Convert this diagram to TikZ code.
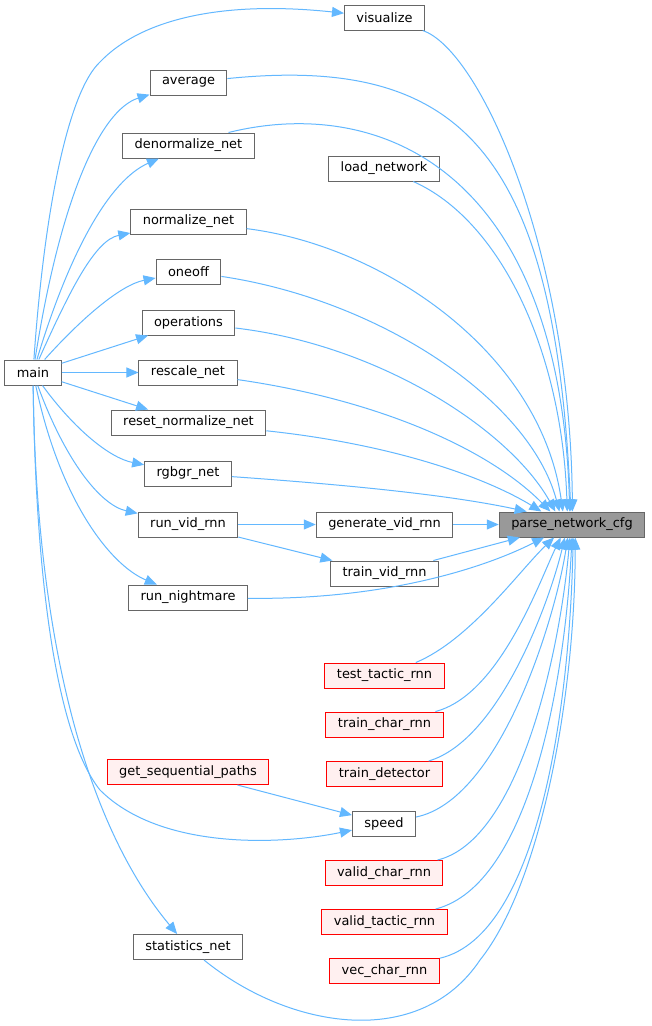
\documentclass[tikz,border=0pt]{standalone}
\usepackage{fontspec}
\setmainfont{DejaVu Sans}
\usetikzlibrary{arrows.meta}
\definecolor{dxblue}{RGB}{99,184,255}
\definecolor{dxgray}{RGB}{102,102,102}
\definecolor{dxfill}{RGB}{153,153,153}
\definecolor{dxred}{RGB}{255,0,0}
\definecolor{dxpink}{RGB}{255,240,240}

\begin{document}
\begin{tikzpicture}[x=0.75pt, y=-0.75pt, >={Triangle[length=9pt,width=7.5pt]},
  fn/.style={draw=dxgray, fill=white, line width=0.75pt, font=\fontsize{9.7}{11}\selectfont,
    inner xsep=9pt, inner ysep=0pt, minimum height=18.75pt},
  trunc/.style={fn, draw=dxred, fill=dxpink},
  cur/.style={fn, fill=dxfill},
  call/.style={->, dxblue, line width=0.75pt}]
  \useasboundingbox[fill=white] (0,0) rectangle (651,1026);

  % called function and caller
  \node[cur] (parse) at (572,524.5) {parse\_network\_cfg};
  \node[fn] (main) at (33,372.5) {main};

  % middle column
  \node[fn] (average) at (188.5,82.5) {average};
  \node[fn] (denorm) at (188.5,145.5) {denormalize\_net};
  \node[fn] (normnet) at (188.5,221.5) {normalize\_net};
  \node[fn] (oneoff) at (188.5,271.5) {oneoff};
  \node[fn] (operations) at (188.5,322.5) {operations};
  \node[fn] (rescale) at (188,372.5) {rescale\_net};
  \node[fn] (resetnorm) at (188.5,422.5) {reset\_normalize\_net};
  \node[fn] (rgbgr) at (188,473.5) {rgbgr\_net};
  \node[fn] (runvid) at (188,524.5) {run\_vid\_rnn};
  \node[fn] (nightmare) at (188,597.5) {run\_nightmare};
  \node[trunc] (getseq) at (188,772) {get\_sequential\_paths};
  \node[fn] (statnet) at (188,947) {statistics\_net};

  % right column
  \node[fn] (visualize) at (384.5,17.5) {visualize};
  \node[fn] (loadnet) at (384,168.5) {load\_network};
  \node[fn] (generate) at (384.5,524.5) {generate\_vid\_rnn};
  \node[fn] (trainvid) at (384.5,573.5) {train\_vid\_rnn};
  \node[trunc] (testtactic) at (384.5,675.5) {test\_tactic\_rnn};
  \node[trunc] (trainchar) at (384.5,724.5) {train\_char\_rnn};
  \node[trunc] (traindet) at (384.5,774) {train\_detector};
  \node[fn] (speed) at (384,823.5) {speed};
  \node[trunc] (validchar) at (384,873) {valid\_char\_rnn};
  \node[trunc] (validtactic) at (384.5,922) {valid\_tactic\_rnn};
  \node[trunc] (vecchar) at (384.5,971) {vec\_char\_rnn};

  % main -> callers
  \draw[call] (main) .. controls (45,200) and (70,90) .. (100,62)
    .. controls (140,20) and (220,0) .. (visualize);
  \draw[call] (main) .. controls (60,200) and (100,110) .. (average);
  \draw[call] (main) .. controls (70,250) and (110,180) .. (denorm);
  \draw[call] (main) .. controls (70,290) and (95,240) .. (normnet);
  \draw[call] (main) .. controls (80,320) and (120,285) .. (oneoff);
  \draw[call] (main) -- (operations);
  \draw[call] (main) -- (rescale);
  \draw[call] (main) -- (resetnorm);
  \draw[call] (main) .. controls (75,430) and (110,458) .. (rgbgr);
  \draw[call] (main) .. controls (65,460) and (100,505) .. (runvid);
  \draw[call] (main) .. controls (60,500) and (110,565) .. (nightmare);
  \draw[call] (main) .. controls (36,600) and (60,740) .. (100,790)
    .. controls (160,850) and (280,845) .. (speed);
  \draw[call] (main) .. controls (36,650) and (90,830) .. (statnet);
  \draw[call] (runvid) -- (generate);
  \draw[call] (runvid) -- (trainvid);
  \draw[call] (getseq) -- (speed);

  % everything -> parse_network_cfg
  \foreach \n/\ax/\ay/\bx/\by/\a in {visualize/480/50/570/250/88, average/460/55/555/150/95,
      loadnet/500/220/562/350/110, normnet/380/245/540/350/125,
      oneoff/380/300/530/400/134, operations/380/345/510/430/142, rescale/380/400/490/450/149,
      resetnorm/400/445/490/480/157, rgbgr/350/485/450/495/164, nightmare/380/600/480/570/-155,
      testtactic/470/640/520/570/-144, trainchar/500/695/540/580/-131, traindet/500/740/550/600/-119,
      speed/500/800/555/620/-108, validchar/520/840/560/650/-99, validtactic/530/885/565/680/-90,
      vecchar/540/935/570/700/-85}
    \draw[call] (\n) .. controls (\ax,\ay) and (\bx,\by) .. (parse.\a);
  \draw[call] (denorm.18) .. controls (380,95) and (560,170) .. (parse.100);
  \draw[call] (generate) -- (parse);
  \draw[call] (trainvid) -- (parse.-166);
  \draw[call] (statnet) .. controls (290,1030) and (420,1050) .. (480,960)
    .. controls (540,885) and (575,700) .. (parse.-76);
\end{tikzpicture}
\end{document}
